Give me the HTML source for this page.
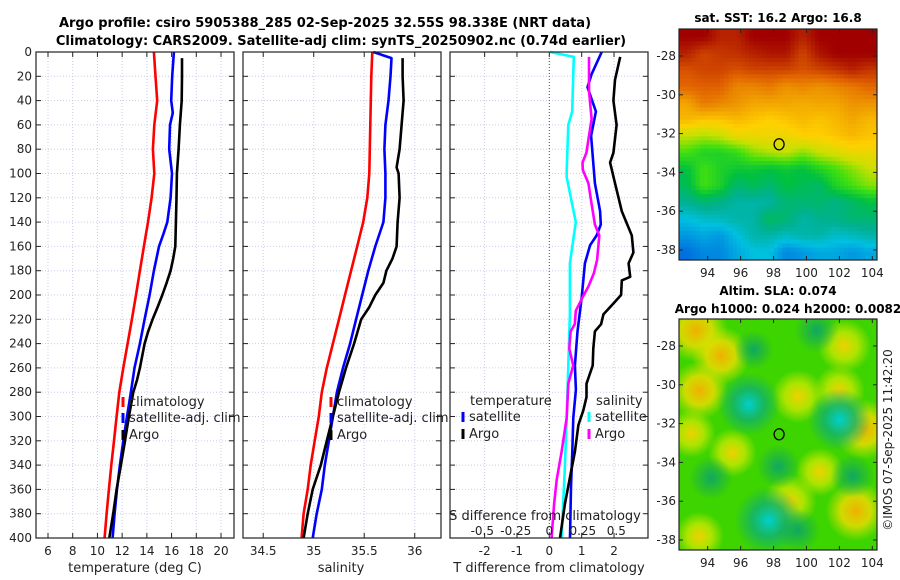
<!DOCTYPE html>
<html><head><meta charset="utf-8">
<style>
html,body{margin:0;padding:0;background:#fff;}
svg{display:block;font-family:"DejaVu Sans","Liberation Sans",sans-serif;}
</style></head>
<body>
<svg id="fig" width="900" height="580" viewBox="0 0 900 580" xmlns="http://www.w3.org/2000/svg">
<text x="325" y="27" font-size="13" font-weight="bold" text-anchor="middle">Argo profile: csiro 5905388_285 02-Sep-2025 32.55S 98.338E (NRT data)</text>
<text x="341" y="45" font-size="13" font-weight="bold" text-anchor="middle">Climatology: CARS2009. Satellite-adj clim: synTS_20250902.nc (0.74d earlier)</text>
<g id="g1"></g>
<g id="g2"></g>
<g id="g3"></g>
<g id="m1"></g>
<g id="m2"></g>
<text x="0" y="0" font-size="12" text-anchor="middle" transform="translate(892,440) rotate(-90)" fill="#222">©IMOS 07-Sep-2025 11:42:20</text>
</svg>
<script>
// ---------- data ----------
const depthTicks = [0,20,40,60,80,100,120,140,160,180,200,220,240,260,280,300,320,340,360,380,400];
const tempTicks = [6,8,10,12,14,16,18,20];
const salTicks = [34.5,35,35.5,36];
const salTickLabels = ["34.5","35","35.5","36"];
const tdiffTicks = [-2,-1,0,1,2];
const sdiffTicks = [-0.5,-0.25,0,0.25,0.5];
const sdiffTickLabels = ["-0.5","-0.25","0","0.25","0.5"];

const climTdepth = [0,20,40,60,80,100,120,140,160,180,200,220,240,260,280,300,320,340,360,380,400];
const climT = [14.57,14.7,14.84,14.6,14.49,14.6,14.38,14.09,13.76,13.44,13.12,12.79,12.44,12.09,11.77,11.55,11.34,11.12,10.93,10.74,10.58];
const satTdepth = [0,20,40,50,60,80,100,120,140,150,160,180,200,220,240,260,280,300,320,340,360,380,400];
const satT = [16.19,16.05,15.97,16.1,15.87,15.81,16.03,15.92,15.65,15.33,14.98,14.57,14.22,13.82,13.44,13.0,12.71,12.39,12.09,11.82,11.58,11.39,11.23];
const argoTdepth = [5,20,40,60,80,100,120,140,160,170,180,190,200,210,220,230,240,260,270,280,300,320,340,360,380,400];
const argoT = [16.84,16.84,16.82,16.67,16.57,16.43,16.4,16.35,16.3,16.13,15.92,15.6,15.25,14.87,14.46,14.11,13.82,13.44,13.2,12.9,12.55,12.23,11.9,11.55,11.28,10.96];

const climSdepth = [0,20,60,100,120,140,160,180,200,220,240,260,280,300,320,340,360,380,400];
const climS = [35.58,35.57,35.56,35.55,35.53,35.49,35.43,35.37,35.31,35.25,35.19,35.13,35.08,35.05,35.01,34.97,34.94,34.9,34.88];
const satSdepth = [0,5,20,40,60,80,100,120,140,160,180,200,220,240,260,280,300,320,340,360,380,400];
const satS = [35.59,35.77,35.76,35.74,35.71,35.7,35.71,35.71,35.69,35.61,35.54,35.48,35.42,35.36,35.29,35.23,35.19,35.15,35.11,35.08,35.03,34.99];
const argoSdepth = [5,20,40,60,80,95,100,120,140,160,170,180,190,200,210,220,240,260,280,300,320,340,360,380,400];
const argoS = [35.88,35.88,35.89,35.87,35.85,35.82,35.84,35.85,35.83,35.82,35.78,35.72,35.69,35.61,35.55,35.47,35.4,35.32,35.25,35.19,35.13,35.07,34.99,34.94,34.9];

const dTsatDepth = [0,18,29,49,69,108,131,142,151,159,174,202,230,258,278,301,329,358,400];
const dTsat = [1.62,1.31,1.18,1.44,1.29,1.41,1.57,1.59,1.46,1.26,1.1,1.0,0.87,0.79,0.82,0.74,0.71,0.67,0.64];
const dTargoDepth = [4,23,40,60,83,91,108,131,151,165,174,185,188,200,207,216,224,230,244,258,273,284,295,307,329,343,372,400];
const dTargo = [2.19,2.03,1.98,2.08,1.98,1.88,2.03,2.24,2.55,2.6,2.45,2.5,2.24,2.22,1.98,1.67,1.6,1.41,1.36,1.34,1.15,1.15,1.05,0.9,0.79,0.69,0.48,0.33];
const dSsatDepth = [0,4,49,60,97,103,140,174,216,258,301,343,400];
const dSsat = [0.005,0.183,0.171,0.142,0.13,0.13,0.198,0.154,0.154,0.142,0.13,0.116,0.092];
const dSargoDepth = [4,32,55,83,91,97,108,125,142,151,171,182,193,202,213,224,230,244,258,273,301,329,352,372,400];
const dSargo = [0.296,0.296,0.316,0.277,0.248,0.25,0.292,0.316,0.34,0.373,0.357,0.333,0.292,0.248,0.198,0.19,0.159,0.149,0.178,0.142,0.13,0.092,0.055,0.036,0.017];

const lonTicks = [94,96,98,100,102,104];
const latTicks = [-28,-30,-32,-34,-36,-38];
const argoLon = 98.338, argoLat = -32.55;
const sstGrid = [
[1,1,.95,.95,1,1,1,.95,1,1,1,1],
[.95,.9,.92,.93,.95,.97,.97,.9,.97,1,1,1],
[.88,.9,.9,.88,.9,.9,.9,.88,.9,.92,.95,.92],
[.85,.86,.86,.8,.8,.82,.78,.8,.78,.8,.82,.85],
[.75,.82,.8,.78,.75,.75,.75,.74,.75,.75,.78,.78],
[.72,.7,.7,.72,.7,.68,.7,.72,.7,.72,.75,.72],
[.6,.58,.6,.65,.65,.66,.65,.68,.68,.7,.72,.7],
[.5,.45,.45,.48,.55,.58,.6,.55,.6,.62,.65,.65],
[.4,.5,.45,.42,.42,.4,.42,.4,.45,.5,.55,.6],
[.38,.5,.45,.35,.38,.35,.4,.38,.36,.45,.5,.55],
[.32,.35,.33,.3,.3,.3,.35,.35,.36,.33,.36,.4],
[.25,.27,.28,.3,.3,.37,.35,.3,.32,.33,.35,.35],
[.2,.22,.2,.25,.3,.3,.28,.3,.3,.27,.28,.3],
[.15,.18,.18,.22,.25,.25,.18,.2,.22,.22,.2,.22]];
const slaLon = [93.3,94.8,93.5,99.5,103.5,103,99,102.3,93,95.5,100.8,93.5,102,96.5,102,97.7,94.2,98.3,102.8,96.8,100.6,99.5];
const slaLat = [-27.2,-28.5,-30.3,-30.6,-32.3,-36.5,-36,-28,-32.5,-33.5,-34.5,-37.8,-30.3,-31,-31.8,-37,-34.8,-34.2,-34.7,-28.2,-27.2,-37.5];
const slaVal = [0.9,0.8,0.8,0.7,0.85,0.85,0.7,0.7,0.6,0.6,0.6,0.6,0.65,-0.9,-0.9,-1,-0.5,-0.5,-0.5,-0.4,-0.5,-0.5];

// ---------- helpers ----------
const NS="http://www.w3.org/2000/svg";
function mk(parent,tag,attrs,text){const e=document.createElementNS(NS,tag);for(const k in attrs)e.setAttribute(k,attrs[k]);if(text!==undefined)e.textContent=text;parent.appendChild(e);return e;}
const Y0=52, Y1=538;
const yD = d => Y0 + (d/400)*(Y1-Y0);
function panel(g,x0,x1,xmin,xmax,ticks,labels,showY){
  const xs = v => x0 + (v-xmin)/(xmax-xmin)*(x1-x0);
  ticks.forEach((t,i)=>{
    const gl=mk(g,'line',{x1:xs(t),x2:xs(t),y1:Y0,y2:Y1,stroke:'#c8cde8','stroke-width':1,'stroke-dasharray':'1,2'});
    
    mk(g,'line',{x1:xs(t),x2:xs(t),y1:Y1,y2:Y1-5,stroke:'#222'});
    mk(g,'line',{x1:xs(t),x2:xs(t),y1:Y0,y2:Y0+5,stroke:'#222'});
    const tl=mk(g,'text',{x:xs(t),y:Y1+17,'font-size':12,'text-anchor':'middle',fill:'#222'},labels[i]);
    
  });
  depthTicks.forEach(d=>{
    const gl=mk(g,'line',{x1:x0,x2:x1,y1:yD(d),y2:yD(d),stroke:'#c8cde8','stroke-width':1,'stroke-dasharray':'1,2'});
    
    mk(g,'line',{x1:x0,x2:x0+5,y1:yD(d),y2:yD(d),stroke:'#222'});
    mk(g,'line',{x1:x1,x2:x1-5,y1:yD(d),y2:yD(d),stroke:'#222'});
    if(showY){const tl=mk(g,'text',{x:x0-4,y:yD(d)+4,'font-size':12,'text-anchor':'end',fill:'#222'},String(d));
      }
  });
  return xs;
}
function frame(g,x0,x1){const r=mk(g,'rect',{x:x0,y:Y0,width:x1-x0,height:Y1-Y0,fill:'none',stroke:'#222','stroke-width':1.2});
  }
function line(g,xs,vals,depths,color,name){
  const pts=vals.map((v,i)=>xs(v).toFixed(1)+','+yD(depths[i]).toFixed(1)).join(' ');
  const p=mk(g,'polyline',{points:pts,fill:'none',stroke:color,'stroke-width':2.6,'stroke-linejoin':'round'});
  
}
function legendEntry(g,x,y,color,label,name){
  const e=mk(g,'g',{});
  
  mk(e,'line',{x1:x,x2:x,y1:y-9,y2:y+1,stroke:color,'stroke-width':3});
  mk(e,'text',{x:x+6,y:y,'font-size':13,fill:'#222'},label);
}

// ---------- panel 1 ----------
const g1=document.getElementById('g1');
const xT=panel(g1,36,234,5.03,21.05,tempTicks,tempTicks.map(String),true);
line(g1,xT,climT,climTdepth,'#ff0000','climatology-temp-line');
line(g1,xT,satT,satTdepth,'#0000ff','satellite-temp-line');
line(g1,xT,argoT,argoTdepth,'#000000','argo-temp-line');
frame(g1,36,234);
let xl=mk(g1,'text',{x:135,y:572,'font-size':13,'text-anchor':'middle',fill:'#222'},'temperature (deg C)');

legendEntry(g1,123,406,'#ff0000','climatology','legend-climatology');
legendEntry(g1,123,422,'#0000ff','satellite-adj. clim','legend-satellite');
legendEntry(g1,123,439,'#000000','Argo','legend-argo');

// ---------- panel 2 ----------
const g2=document.getElementById('g2');
const xS=panel(g2,243,441,34.3,36.26,salTicks,salTickLabels,false);
line(g2,xS,climS,climSdepth,'#ff0000','climatology-sal-line');
line(g2,xS,satS,satSdepth,'#0000ff','satellite-sal-line');
line(g2,xS,argoS,argoSdepth,'#000000','argo-sal-line');
frame(g2,243,441);
xl=mk(g2,'text',{x:341,y:572,'font-size':13,'text-anchor':'middle',fill:'#222'},'salinity');

legendEntry(g2,331,406,'#ff0000','climatology','legend-climatology');
legendEntry(g2,331,422,'#0000ff','satellite-adj. clim','legend-satellite');
legendEntry(g2,331,439,'#000000','Argo','legend-argo');

// ---------- panel 3 ----------
const g3=document.getElementById('g3');
const xDT=panel(g3,450,648,-3.07,3.05,tdiffTicks,tdiffTicks.map(String),false);
const xDS = v => 549.3 + v*134;
mk(g3,'line',{x1:xDT(0),x2:xDT(0),y1:Y0,y2:Y1,stroke:'#555','stroke-dasharray':'1,2'});
line(g3,xDS,dSsat,dSsatDepth,'#00ffff','satellite-sal-diff-line');
line(g3,xDT,dTsat,dTsatDepth,'#0000ff','satellite-temp-diff-line');
line(g3,xDS,dSargo,dSargoDepth,'#ff00ff','argo-sal-diff-line');
line(g3,xDT,dTargo,dTargoDepth,'#000000','argo-temp-diff-line');
frame(g3,450,648);
xl=mk(g3,'text',{x:549,y:572,'font-size':13,'text-anchor':'middle',fill:'#222'},'T difference from climatology');

xl=mk(g3,'text',{x:545,y:520,'font-size':13,'text-anchor':'middle',fill:'#222'},'S difference from climatology');

sdiffTicks.forEach((t,i)=>{const tl=mk(g3,'text',{x:xDS(t),y:535,'font-size':12,'text-anchor':'middle',fill:'#222'},sdiffTickLabels[i]);
  });
mk(g3,'text',{x:470,y:405,'font-size':13,fill:'#222'},'temperature');
legendEntry(g3,463,421,'#0000ff','satellite','legend-temp-satellite');
legendEntry(g3,463,438,'#000000','Argo','legend-temp-argo');
mk(g3,'text',{x:596,y:405,'font-size':13,fill:'#222'},'salinity');
legendEntry(g3,589,421,'#00ffff','satellite','legend-sal-satellite');
legendEntry(g3,589,438,'#ff00ff','Argo','legend-sal-argo');

// ---------- maps ----------
const stops=[[0,[0,48,192]],[0.15,[0,112,224]],[0.25,[0,192,224]],[0.32,[0,176,144]],[0.4,[0,192,64]],[0.5,[64,224,16]],[0.6,[200,224,0]],[0.68,[255,208,0]],[0.76,[240,160,0]],[0.86,[224,96,0]],[0.93,[192,48,0]],[1,[160,0,0]]];
function cmap(v){v=Math.max(0,Math.min(1,v));for(let i=1;i<stops.length;i++){if(v<=stops[i][0]){const a=stops[i-1],b=stops[i],f=(v-a[0])/(b[0]-a[0]);return 'rgb('+a[1].map((c,k)=>Math.round(c+(b[1][k]-c)*f)).join(',')+')';}}return 'rgb(160,0,0)';}
const MX0=679, MX1=877;
const lonX = lon => 707.7 + (lon-94)*16.46;
function mapAxes(g,top,bot,lat0y,title,title2){
  const latY = lat => lat0y + (-28-lat)*19.4;
  mk(g,'rect',{x:MX0,y:top,width:MX1-MX0,height:bot-top,fill:'none',stroke:'#222','stroke-width':1.2});
  lonTicks.forEach(l=>{mk(g,'line',{x1:lonX(l),x2:lonX(l),y1:bot,y2:bot-4,stroke:'#222'});mk(g,'line',{x1:lonX(l),x2:lonX(l),y1:top,y2:top+4,stroke:'#222'});
    const t=mk(g,'text',{x:lonX(l),y:bot+17,'font-size':12,'text-anchor':'middle',fill:'#222'},String(l));
    });
  latTicks.forEach(l=>{mk(g,'line',{x1:MX0,x2:MX0+4,y1:latY(l),y2:latY(l),stroke:'#222'});mk(g,'line',{x1:MX1,x2:MX1-4,y1:latY(l),y2:latY(l),stroke:'#222'});
    const t=mk(g,'text',{x:MX0-3,y:latY(l)+4,'font-size':12,'text-anchor':'end',fill:'#222'},String(l));
    });
  const e=mk(g,'ellipse',{cx:lonX(argoLon),cy:latY(argoLat),rx:5,ry:5.5,fill:'none',stroke:'#000','stroke-width':1.3});
  
  let t=mk(g,'text',{x:778,y:top-(title2?24:7),'font-size':12,'font-weight':'bold','text-anchor':'middle',fill:'#000'},title);
  
  if(title2){t=mk(g,'text',{x:788,y:top-6,'font-size':12,'font-weight':'bold','text-anchor':'middle',fill:'#000'},title2);
    }
  return latY;
}
// SST map (bilinear upsampled)
const m1=document.getElementById('m1');
const T1=29,B1=260;
const nr=sstGrid.length,nc=sstGrid[0].length;
const UP=4, fr=nr*UP, fc=nc*UP;
const cw=(MX1-MX0)/fc, ch=(B1-T1)/fr;
function sampleSST(r,c){
  const rr=Math.min(nr-1,Math.max(0,(r+0.5)/UP-0.5)), cc=Math.min(nc-1,Math.max(0,(c+0.5)/UP-0.5));
  const r0=Math.floor(rr),c0=Math.floor(cc),r1=Math.min(nr-1,r0+1),c1=Math.min(nc-1,c0+1),fy=rr-r0,fx=cc-c0;
  return sstGrid[r0][c0]*(1-fx)*(1-fy)+sstGrid[r0][c1]*fx*(1-fy)+sstGrid[r1][c0]*(1-fx)*fy+sstGrid[r1][c1]*fx*fy;
}
for(let r=0;r<fr;r++)for(let c=0;c<fc;c++){
  const cell=mk(m1,'rect',{x:(MX0+c*cw).toFixed(2),y:(T1+r*ch).toFixed(2),width:(cw+0.5).toFixed(2),height:(ch+0.5).toFixed(2),fill:cmap(sampleSST(r,c))});
  
  
}
mapAxes(m1,T1,B1,56,'sat. SST: 16.2 Argo: 16.8');
// SLA map
const m2=document.getElementById('m2');
const T2=319,B2=550;
const defs=mk(m2,'defs',{});
mk(defs,'clipPath',{id:'slaClip'}).appendChild(Object.assign(document.createElementNS(NS,'rect'),{}));
defs.lastChild.firstChild.setAttribute('x',MX0);defs.lastChild.firstChild.setAttribute('y',T2);defs.lastChild.firstChild.setAttribute('width',MX1-MX0);defs.lastChild.firstChild.setAttribute('height',B2-T2);
const grY=mk(defs,'radialGradient',{id:'gY'});mk(grY,'stop',{offset:'0','stop-color':'#f0d000'});mk(grY,'stop',{offset:'0.5','stop-color':'#c8e800','stop-opacity':0.8});mk(grY,'stop',{offset:'1','stop-color':'#c8e800','stop-opacity':0});
const grO=mk(defs,'radialGradient',{id:'gO'});mk(grO,'stop',{offset:'0','stop-color':'#f0b000'});mk(grO,'stop',{offset:'0.5','stop-color':'#e8dc00','stop-opacity':0.85});mk(grO,'stop',{offset:'1','stop-color':'#c8e800','stop-opacity':0});
const grC=mk(defs,'radialGradient',{id:'gC'});mk(grC,'stop',{offset:'0','stop-color':'#00d0d0'});mk(grC,'stop',{offset:'0.5','stop-color':'#10b070','stop-opacity':0.8});mk(grC,'stop',{offset:'1','stop-color':'#10b070','stop-opacity':0});
const grT=mk(defs,'radialGradient',{id:'gT'});mk(grT,'stop',{offset:'0','stop-color':'#10a860'});mk(grT,'stop',{offset:'1','stop-color':'#10a860','stop-opacity':0});
const sg=mk(m2,'g',{'clip-path':'url(#slaClip)'});
const bg=mk(sg,'rect',{x:MX0,y:T2,width:MX1-MX0,height:B2-T2,fill:'#3ed400'});

const latY2 = lat => 346 + (-28-lat)*19.4;
slaVal.forEach((v,i)=>{
  const fill = v>=0.8?'url(#gO)':v>0?'url(#gY)':v<=-0.8?'url(#gC)':'url(#gT)';
  const r = 24*Math.abs(v)+10;
  const b=mk(sg,'circle',{cx:lonX(slaLon[i]),cy:latY2(slaLat[i]),r:r,fill:fill});
  
  
});
mapAxes(m2,T2,B2,346,'Altim. SLA: 0.074','Argo h1000: 0.024 h2000: 0.0082');
</script>
</body></html>
